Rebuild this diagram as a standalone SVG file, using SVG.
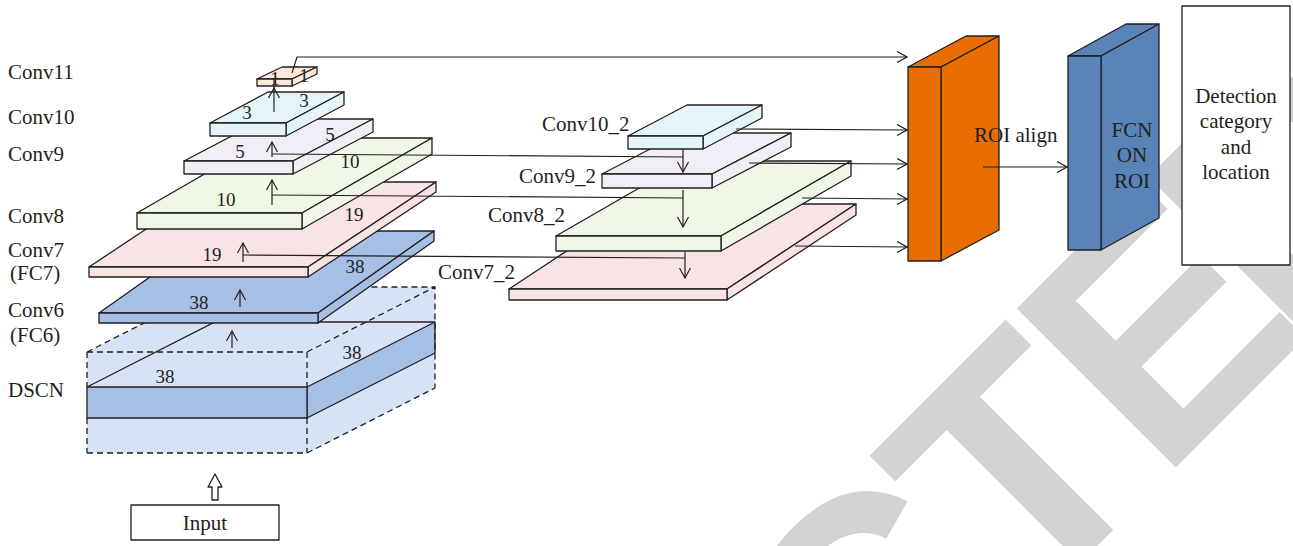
<svg xmlns="http://www.w3.org/2000/svg" width="1293" height="546" viewBox="0 0 1293 546">
<style>
.s{stroke:#231f20;stroke-width:1.3;stroke-linejoin:round}
.d{fill:none;stroke:#231f20;stroke-width:1.3;stroke-dasharray:6 4}
.l{fill:none;stroke:#231f20;stroke-width:1.3}
.t{font-family:"Liberation Serif","Times New Roman",serif;font-size:21px;fill:#231f20}
.n{font-family:"Liberation Serif","Times New Roman",serif;font-size:19px;fill:#231f20;text-anchor:middle}
.c{text-anchor:middle}
.wire{fill:none;stroke:#231f20;stroke-width:1.2}
.p11{fill:#fde9d9}.p10{fill:#e5f4f9}.p9{fill:#f2eef7}.p8{fill:#f1f7e6}.p7{fill:#f8e4e4}.p6{fill:#a5bfe5}.pd{fill:#d7e3f5}
</style>
<defs>
<marker id="a" viewBox="0 0 12 12" refX="11" refY="6" markerWidth="12" markerHeight="12" markerUnits="userSpaceOnUse" orient="auto">
<path d="M1,0.5 L11,6 L1,11.5" fill="none" stroke="#231f20" stroke-width="1.2"/>
</marker>
</defs>
<rect width="1293" height="546" fill="#fff"/>
<g id="watermark" transform="rotate(-45)">
<text x="63 289 479 665" y="1162" font-family="Liberation Sans, Arial, sans-serif" font-weight="bold" font-size="327" fill="#d3d3d3">CTED</text>
</g>

<g id="dscn">
<polygon class="pd" points="87,352 307,352 435,287 215,287"/>
<polygon class="pd" points="307,352 435,287 435,388 307,453"/>
<rect class="pd" x="87" y="352" width="220" height="101"/>
<polygon class="p6 s" points="307,387 435,322 435,353 307,418"/>
<rect class="p6 s" x="87" y="387" width="220" height="31"/>
<polyline class="l" points="87,387 215,322 435,322"/>
<path class="d" d="M87,352 H307 M87,453 H307 M87,352 V387 M87,418 V453 M307,352 V387 M307,418 V453 M87,352 L215,287 H435 M307,352 L435,287 V388 M307,453 L435,388"/>
<text class="n" x="165" y="383">38</text>
<text class="n" x="352" y="359">38</text>
<text class="t" x="8" y="397">DSCN</text>
</g>

<g id="conv6">
<polygon class="p6 s" points="99,313 318,313 434,231 215,231"/>
<polygon class="p6 s" points="318,313 434,231 434,241 318,323"/>
<rect class="p6 s" x="99" y="313" width="219" height="10"/>
<text class="n" x="199" y="309">38</text>
<text class="n" x="355" y="273">38</text>
<text class="t" x="8" y="317">Conv6</text>
<text class="t" x="10" y="342">(FC6)</text>
</g>

<g id="conv7">
<polygon class="p7 s" points="89,267 308,267 436,182 217,182"/>
<polygon class="p7 s" points="308,267 436,182 436,192 308,277"/>
<rect class="p7 s" x="89" y="267" width="219" height="10"/>
<text class="n" x="212" y="261">19</text>
<text class="n" x="354" y="221">19</text>
<text class="t" x="8" y="257">Conv7</text>
<text class="t" x="10" y="280">(FC7)</text>
</g>

<g id="conv8">
<polygon class="p8 s" points="137,213 302,213 432,138 267,138"/>
<polygon class="p8 s" points="302,213 432,138 432,154 302,229"/>
<rect class="p8 s" x="137" y="213" width="165" height="16"/>
<text class="n" x="226" y="206">10</text>
<text class="n" x="350" y="168">10</text>
<text class="t" x="8" y="223">Conv8</text>
</g>

<g id="conv9">
<polygon class="p9 s" points="184,161 293,161 373,119 264,119"/>
<polygon class="p9 s" points="293,161 373,119 373,132 293,174"/>
<rect class="p9 s" x="184" y="161" width="109" height="13"/>
<text class="n" x="240" y="158">5</text>
<text class="n" x="330" y="141">5</text>
<text class="t" x="8" y="161">Conv9</text>
</g>

<g id="conv10">
<polygon class="p10 s" points="210,123 286,123 344,92 268,92"/>
<polygon class="p10 s" points="286,123 344,92 344,105 286,136"/>
<rect class="p10 s" x="210" y="123" width="76" height="13"/>
<text class="n" x="247" y="119">3</text>
<text class="n" x="304" y="107">3</text>
<text class="t" x="8" y="124">Conv10</text>
</g>

<g id="conv11">
<polygon class="p11 s" points="257,79 292,79 317,67 282,67"/>
<polygon class="p11 s" points="292,79 317,67 317,74 292,86"/>
<rect class="p11 s" x="257" y="79" width="35" height="7"/>
<text class="n" x="275" y="85">1</text>
<text class="n" x="304" y="82">1</text>
<text class="t" x="8" y="79">Conv11</text>
</g>

<g id="input">
<rect x="131" y="505" width="148" height="35" fill="#fff" class="s"/>
<text class="t c" x="205" y="530">Input</text>
<polygon points="215,474 222,487 218,487 218,500 212,500 212,487 208,487" fill="#fff" class="s"/>
</g>

<g id="conv7_2">
<polygon class="p7 s" points="509,289 727,289 856,204 638,204"/>
<polygon class="p7 s" points="727,289 856,204 856,215 727,300"/>
<rect class="p7 s" x="509" y="289" width="218" height="11"/>
<text class="t" x="438" y="279">Conv7_2</text>
</g>

<g id="conv8_2">
<polygon class="p8 s" points="556,236 721,236 851,161 686,161"/>
<polygon class="p8 s" points="721,236 851,161 851,176 721,251"/>
<rect class="p8 s" x="556" y="236" width="165" height="15"/>
<text class="t" x="488" y="222">Conv8_2</text>
</g>

<g id="conv9_2">
<polygon class="p9 s" points="602,174 712,174 791,133 681,133"/>
<polygon class="p9 s" points="712,174 791,133 791,147 712,188"/>
<rect class="p9 s" x="602" y="174" width="110" height="14"/>
<text class="t" x="519" y="183">Conv9_2</text>
</g>

<g id="conv10_2">
<polygon class="p10 s" points="628,136 703,136 762,105 687,105"/>
<polygon class="p10 s" points="703,136 762,105 762,118 703,149"/>
<rect class="p10 s" x="628" y="136" width="75" height="13"/>
<text class="t" x="542" y="131">Conv10_2</text>
</g>

<g id="roi-align">
<polygon fill="#e86c00" class="s" points="908,67 941,67 999,36 966,36"/>
<polygon fill="#e86c00" class="s" points="941,67 999,36 999,230 941,261"/>
<rect fill="#e86c00" class="s" x="908" y="67" width="33" height="194"/>
<text class="t" x="974" y="142">ROI align</text>
</g>

<g id="fcn">
<polygon fill="#5a83b8" class="s" points="1068,56 1101,56 1159,24 1126,24"/>
<polygon fill="#5a83b8" class="s" points="1101,56 1159,24 1159,218 1101,250"/>
<rect fill="#5a83b8" class="s" x="1068" y="56" width="33" height="194"/>
<text class="t c" x="1132" y="137">FCN</text>
<text class="t c" x="1132" y="162">ON</text>
<text class="t c" x="1132" y="188">ROI</text>
</g>

<g id="detection">
<rect x="1182" y="6" width="108" height="259" fill="#fff" class="s"/>
<text class="t c" x="1236" y="103">Detection</text>
<text class="t c" x="1236" y="128">category</text>
<text class="t c" x="1236" y="154">and</text>
<text class="t c" x="1236" y="179">location</text>
</g>

<g id="connectors" class="wire">
<line x1="232" y1="348" x2="232" y2="331" marker-end="url(#a)"/>
<line x1="240" y1="307" x2="240" y2="290" marker-end="url(#a)"/>
<line x1="243" y1="262" x2="243" y2="243" marker-end="url(#a)"/>
<path d="M243,255 L685,258"/>
<line x1="685" y1="252" x2="685" y2="278" marker-end="url(#a)"/>
<line x1="272" y1="205" x2="272" y2="180" marker-end="url(#a)"/>
<path d="M272,195 L683,198"/>
<line x1="683" y1="190" x2="683" y2="227" marker-end="url(#a)"/>
<line x1="272" y1="157" x2="272" y2="142" marker-end="url(#a)"/>
<path d="M272,154 L683,157"/>
<line x1="683" y1="149" x2="683" y2="172" marker-end="url(#a)"/>
<line x1="274" y1="112" x2="274" y2="88" marker-end="url(#a)"/>
<line x1="274" y1="88" x2="274" y2="79"/>
<path d="M292,73 L297,57 L907,57" marker-end="url(#a)"/>
<path d="M736,129 L907,130" marker-end="url(#a)"/>
<path d="M749,163 L907,164" marker-end="url(#a)"/>
<path d="M802,198 L907,199" marker-end="url(#a)"/>
<path d="M795,246 L907,247" marker-end="url(#a)"/>
<path d="M983,167 L1067,167" marker-end="url(#a)"/>
</g>
</svg>
